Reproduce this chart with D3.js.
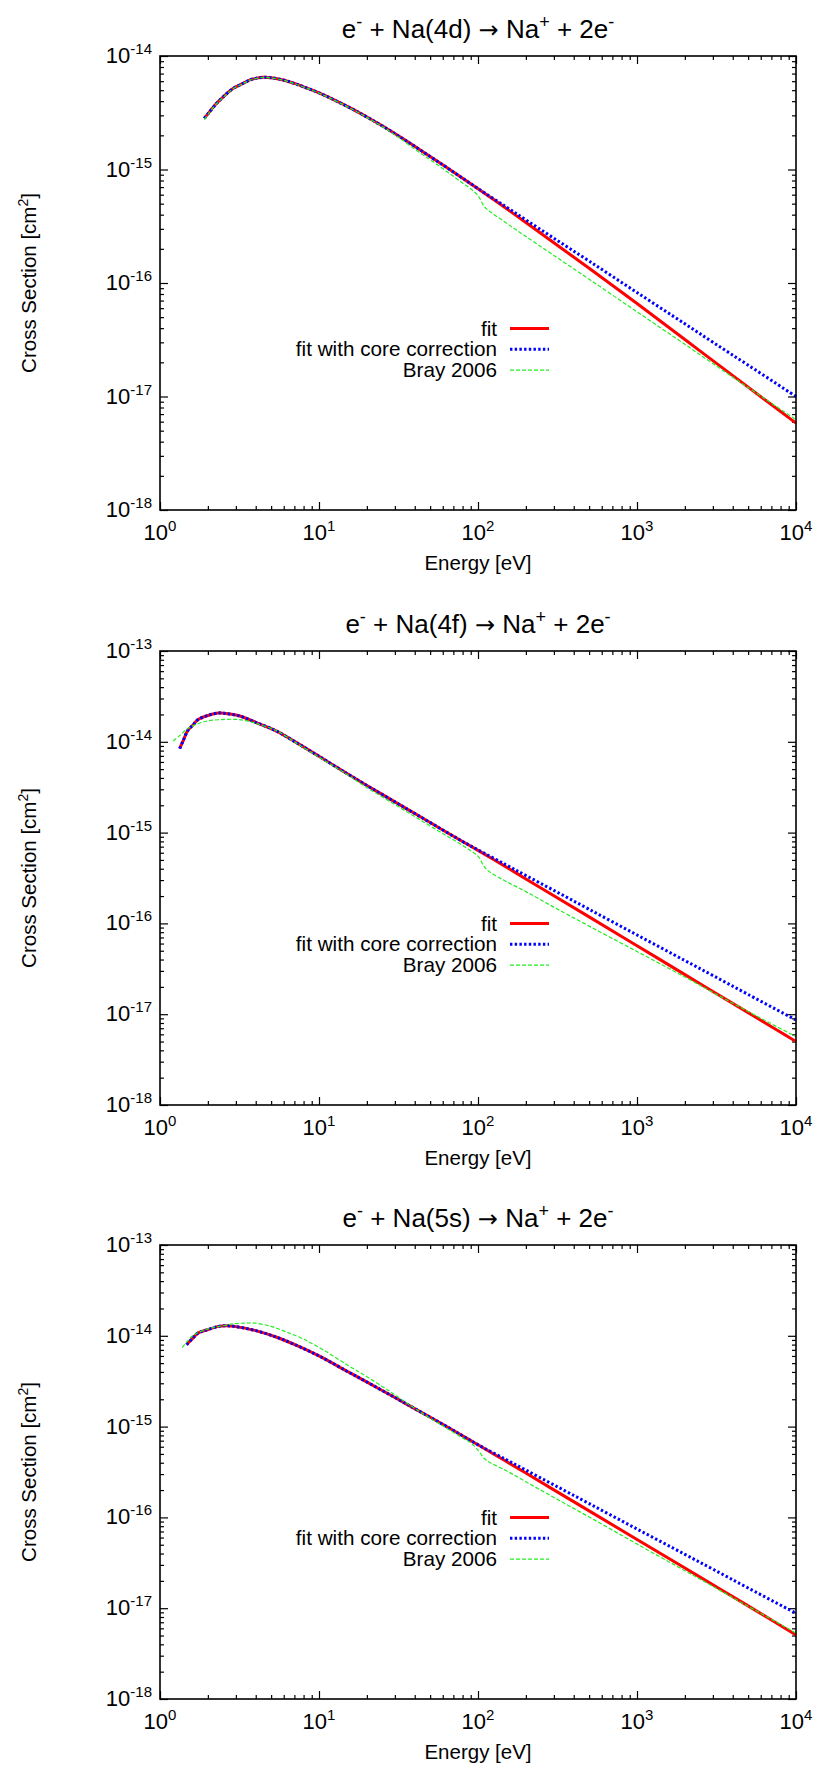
<!DOCTYPE html>
<html>
<head>
<meta charset="utf-8">
<script src="https://cdn.jsdelivr.net/npm/d3@7/dist/d3.min.js"></script>
<style>
  html, body { margin: 0; padding: 0; background: #fff; }
  svg { display: block; font-family: "Liberation Sans", Arial, Helvetica, sans-serif; }
</style>
</head>
<body>
<svg id="chart" width="815" height="1765"></svg>
<script>
// ---- e- + Na(4d) ----
const energy4d = [1.9, 2.0, 2.27, 2.5, 2.89, 3.3, 3.68, 4.0, 4.47, 5, 5.96, 7, 8, 10, 15.7, 20, 25.4, 32.3, 40, 50, 60, 70, 80, 100, 150, 200, 300, 500, 1000, 2000, 3000, 5000, 10000];
const fit4d = [2.82e-15, 3.09e-15, 3.83e-15, 4.37e-15, 5.19e-15, 5.70e-15, 6.15e-15, 6.35e-15, 6.49e-15, 6.43e-15, 6.15e-15, 5.73e-15, 5.35e-15, 4.73e-15, 3.49e-15, 2.90e-15, 2.39e-15, 1.94e-15, 1.60e-15, 1.30e-15, 1.10e-15, 9.51e-16, 8.38e-16, 6.76e-16, 4.55e-16, 3.41e-16, 2.26e-16, 1.35e-16, 6.59e-17, 3.18e-17, 2.07e-17, 1.21e-17, 5.83e-18];
const core4d = [2.82e-15, 3.09e-15, 3.83e-15, 4.37e-15, 5.19e-15, 5.70e-15, 6.15e-15, 6.35e-15, 6.49e-15, 6.43e-15, 6.15e-15, 5.73e-15, 5.35e-15, 4.73e-15, 3.49e-15, 2.90e-15, 2.39e-15, 1.94e-15, 1.60e-15, 1.30e-15, 1.10e-15, 9.51e-16, 8.38e-16, 6.79e-16, 4.69e-16, 3.60e-16, 2.48e-16, 1.56e-16, 8.24e-17, 4.37e-17, 3.01e-17, 1.89e-17, 1.00e-17];
const brayEnergy4d = [1.9, 2.0, 2.27, 2.5, 2.89, 3.3, 3.68, 4.0, 4.47, 5, 5.96, 7, 8, 10, 15.7, 20, 25.4, 32.3, 40, 50, 60, 70, 80, 90, 100, 110, 120, 150, 200, 300, 500, 1000, 2000, 3000, 5000, 10000];
const bray4d = [2.75e-15, 3.05e-15, 3.80e-15, 4.34e-15, 5.16e-15, 5.68e-15, 6.13e-15, 6.33e-15, 6.47e-15, 6.41e-15, 6.13e-15, 5.71e-15, 5.33e-15, 4.71e-15, 3.47e-15, 2.88e-15, 2.36e-15, 1.88e-15, 1.51e-15, 1.22e-15, 1.02e-15, 8.71e-16, 7.59e-16, 6.76e-16, 5.89e-16, 4.68e-16, 4.22e-16, 3.39e-16, 2.57e-16, 1.75e-16, 1.08e-16, 5.58e-17, 2.88e-17, 1.95e-17, 1.20e-17, 6.25e-18];

// ---- e- + Na(4f) ----
const energy4f = [1.33, 1.4, 1.49, 1.6, 1.73, 2.0, 2.34, 2.6, 3.0, 3.41, 4.0, 5.37, 7, 10, 15, 19.4, 30, 41.1, 60, 80, 100, 150, 200, 300, 500, 1000, 2000, 3000, 5000, 10000];
const fit4f = [8.43e-15, 1.03e-14, 1.32e-14, 1.51e-14, 1.75e-14, 1.95e-14, 2.08e-14, 2.05e-14, 1.97e-14, 1.84e-14, 1.64e-14, 1.32e-14, 1.01e-14, 6.92e-15, 4.47e-15, 3.41e-15, 2.18e-15, 1.58e-15, 1.07e-15, 7.98e-16, 6.37e-16, 4.19e-16, 3.09e-16, 2.02e-16, 1.18e-16, 5.68e-17, 2.73e-17, 1.78e-17, 1.04e-17, 5.01e-18];
const core4f = [8.43e-15, 1.03e-14, 1.32e-14, 1.51e-14, 1.75e-14, 1.95e-14, 2.08e-14, 2.05e-14, 1.97e-14, 1.84e-14, 1.64e-14, 1.32e-14, 1.01e-14, 6.92e-15, 4.47e-15, 3.41e-15, 2.18e-15, 1.58e-15, 1.07e-15, 7.98e-16, 6.46e-16, 4.42e-16, 3.37e-16, 2.31e-16, 1.43e-16, 7.46e-17, 3.90e-17, 2.67e-17, 1.65e-17, 8.63e-18];
const brayEnergy4f = [1.21, 1.33, 1.49, 1.73, 2.0, 2.34, 2.94, 3.41, 4.0, 5.37, 7, 10, 15, 19.4, 30, 41.1, 60, 80, 90, 100, 110, 120, 150, 200, 300, 500, 1000, 2000, 3000, 5000, 10000];
const bray4f = [1.02e-14, 1.17e-14, 1.39e-14, 1.58e-14, 1.70e-14, 1.75e-14, 1.77e-14, 1.72e-14, 1.60e-14, 1.33e-14, 1.00e-14, 6.76e-15, 4.37e-15, 3.24e-15, 2.04e-15, 1.46e-15, 9.77e-16, 7.24e-16, 6.31e-16, 5.50e-16, 4.17e-16, 3.63e-16, 2.90e-16, 2.24e-16, 1.51e-16, 9.33e-17, 4.90e-17, 2.57e-17, 1.74e-17, 1.07e-17, 5.66e-18];

// ---- e- + Na(5s) ----
const energy5s = [1.47, 1.6, 1.73, 2.0, 2.34, 2.6, 2.94, 4.0, 5.37, 7, 10, 15, 19.4, 30, 41, 60, 80, 100, 150, 200, 300, 500, 1000, 2000, 3000, 5000, 10000];
const fit5s = [8.00e-15, 9.33e-15, 1.07e-14, 1.17e-14, 1.27e-14, 1.29e-14, 1.27e-14, 1.14e-14, 9.70e-15, 8.04e-15, 6.00e-15, 4.07e-15, 3.19e-15, 2.09e-15, 1.54e-15, 1.06e-15, 7.92e-16, 6.31e-16, 4.15e-16, 3.08e-16, 2.01e-16, 1.18e-16, 5.71e-17, 2.77e-17, 1.81e-17, 1.06e-17, 5.08e-18];
const core5s = [8.00e-15, 9.33e-15, 1.07e-14, 1.17e-14, 1.27e-14, 1.29e-14, 1.27e-14, 1.14e-14, 9.70e-15, 8.04e-15, 6.00e-15, 4.07e-15, 3.19e-15, 2.09e-15, 1.54e-15, 1.06e-15, 7.92e-16, 6.31e-16, 4.34e-16, 3.32e-16, 2.28e-16, 1.42e-16, 7.45e-17, 3.92e-17, 2.69e-17, 1.67e-17, 8.79e-18];
const brayEnergy5s = [1.38, 1.47, 1.6, 2.0, 2.5, 2.94, 3.5, 3.97, 5, 6.25, 8, 10.6, 15, 19.4, 25, 30, 41, 60, 80, 90, 100, 110, 120, 150, 200, 300, 500, 1000, 2000, 3000, 5000, 10000];
const bray5s = [7.41e-15, 8.51e-15, 1.00e-14, 1.19e-14, 1.29e-14, 1.36e-14, 1.38e-14, 1.38e-14, 1.27e-14, 1.10e-14, 9.18e-15, 7.03e-15, 4.79e-15, 3.66e-15, 2.77e-15, 2.24e-15, 1.54e-15, 1.02e-15, 7.48e-16, 6.61e-16, 5.50e-16, 4.42e-16, 3.98e-16, 3.28e-16, 2.47e-16, 1.66e-16, 1.01e-16, 5.09e-17, 2.59e-17, 1.74e-17, 1.05e-17, 5.33e-18];

// axis ticks and labels
const xMajorExp = [0, 1, 2, 3, 4];
const yMajorExp4d = [-18, -17, -16, -15, -14];
const yMajorExp = [-18, -17, -16, -15, -14, -13];
const seriesNames = ["fit", "fit with core correction", "Bray 2006"];
const states = ["4d", "4f", "5s"];
const xTitle = "Energy [eV]";

const panels = [
  { state: states[0], top: 56, yExp: yMajorExp4d,
    series: [[energy4d, fit4d], [energy4d, core4d], [brayEnergy4d, bray4d]] },
  { state: states[1], top: 651, yExp: yMajorExp,
    series: [[energy4f, fit4f], [energy4f, core4f], [brayEnergy4f, bray4f]] },
  { state: states[2], top: 1245, yExp: yMajorExp,
    series: [[energy5s, fit5s], [energy5s, core5s], [brayEnergy5s, bray5s]] }
];

const styles = [
  { color: "#ff0000", width: 3, dash: null },
  { color: "#0000ff", width: 3, dash: "2.4,2.3" },
  { color: "#22ee22", width: 1.2, dash: "4,2" }
];

const svg = d3.select("#chart");
const left = 160, right = 796, plotH = 454;

function minorValues(exps) {
  const out = [];
  for (let i = 0; i < exps.length - 1; i++) {
    for (let m = 2; m <= 9; m++) out.push(m * Math.pow(10, exps[i]));
  }
  return out;
}

function supText(sel, base, sup, supSize, rise) {
  sel.append("tspan").text(base);
  sel.append("tspan").attr("font-size", supSize).attr("dy", -rise).text(sup);
}

panels.forEach(p => {
  const g = svg.append("g");
  const top = p.top, bottom = top + plotH;
  const x = d3.scaleLog().domain([1, 1e4]).range([left, right]);
  const yMin = Math.pow(10, p.yExp[0]), yMax = Math.pow(10, p.yExp[p.yExp.length - 1]);
  const y = d3.scaleLog().domain([yMin, yMax]).range([bottom, top]);

  const xMaj = xMajorExp.map(e => Math.pow(10, e));
  const yMaj = p.yExp.map(e => Math.pow(10, e));
  const xMin = minorValues(xMajorExp);
  const yMinr = minorValues(p.yExp);

  // ticks on all four sides, pointing inward
  const mk = (axis, scale, vals, size, tx, ty) => {
    const a = g.append("g").attr("transform", `translate(${tx},${ty})`)
      .call(axis(scale).tickValues(vals).tickSizeInner(-size).tickSizeOuter(0).tickFormat(""));
    a.select(".domain").remove();
    a.selectAll("line").attr("stroke", "#000").attr("stroke-width", 1.2);
  };
  mk(d3.axisBottom, x, xMaj, 8, 0, bottom);
  mk(d3.axisBottom, x, xMin, 4, 0, bottom);
  mk(d3.axisTop, x, xMaj, 8, 0, top);
  mk(d3.axisTop, x, xMin, 4, 0, top);
  mk(d3.axisLeft, y, yMaj, 8, left, 0);
  mk(d3.axisLeft, y, yMinr, 4, left, 0);
  mk(d3.axisRight, y, yMaj, 8, right, 0);
  mk(d3.axisRight, y, yMinr, 4, right, 0);

  // curves: fit first, then core-corrected fit, then Bray 2006 on top
  const line = d3.line().x(d => x(d[0])).y(d => y(d[1])).curve(d3.curveCatmullRom.alpha(0.5));
  p.series.forEach(([ex, vals], i) => {
    const pts = ex.map((e, k) => [e, vals[k]]);
    const st = styles[i];
    const path = g.append("path").datum(pts).attr("d", line)
      .attr("fill", "none").attr("stroke", st.color).attr("stroke-width", st.width)
      .attr("stroke-linejoin", "round");
    if (st.dash) path.attr("stroke-dasharray", st.dash);
  });

  // frame
  g.append("rect").attr("x", left).attr("y", top).attr("width", right - left).attr("height", plotH)
    .attr("fill", "none").attr("stroke", "#000").attr("stroke-width", 1.6);

  // tick labels
  xMajorExp.forEach(e => {
    const t = g.append("text").attr("x", x(Math.pow(10, e))).attr("y", bottom + 30)
      .attr("text-anchor", "middle").attr("font-size", 22);
    supText(t, "10", String(e), 15, 9);
  });
  p.yExp.forEach(e => {
    const t = g.append("text").attr("x", 152).attr("y", y(Math.pow(10, e)) + 7)
      .attr("text-anchor", "end").attr("font-size", 22);
    supText(t, "10", String(e), 15, 9);
  });

  // title
  const title = g.append("text").attr("x", (left + right) / 2).attr("y", top - 18)
    .attr("text-anchor", "middle").attr("font-size", 26);
  title.append("tspan").text("e");
  title.append("tspan").attr("font-size", 18).attr("dy", -10).text("-");
  title.append("tspan").attr("dy", 10).text(` + Na(${p.state}) `);
  title.append("tspan").attr("font-family", "DejaVu Sans").attr("font-size", 24).text("\u2192");
  title.append("tspan").text(" Na");
  title.append("tspan").attr("font-size", 18).attr("dy", -10).text("+");
  title.append("tspan").attr("dy", 10).text(" + 2e");
  title.append("tspan").attr("font-size", 18).attr("dy", -10).text("-");

  // axis titles
  g.append("text").attr("x", (left + right) / 2).attr("y", bottom + 60)
    .attr("text-anchor", "middle").attr("font-size", 20.5).text(xTitle);
  const yl = g.append("text").attr("transform", `translate(29,${(top + bottom) / 2}) rotate(-90)`)
    .attr("dy", "0.35em").attr("text-anchor", "middle").attr("font-size", 20.5);
  yl.append("tspan").text("Cross Section [cm");
  yl.append("tspan").attr("font-size", 14).attr("dy", -8).text("2");
  yl.append("tspan").attr("dy", 8).text("]");

  // legend
  seriesNames.forEach((name, i) => {
    const cy = top + 272.5 + i * 20.8;
    g.append("text").attr("x", 497).attr("y", cy + 7).attr("text-anchor", "end")
      .attr("font-size", 20.7).text(name);
    const st = styles[i];
    const l = g.append("line").attr("x1", 510).attr("x2", 549).attr("y1", cy).attr("y2", cy)
      .attr("stroke", st.color).attr("stroke-width", st.width);
    if (st.dash) l.attr("stroke-dasharray", st.dash);
  });
});
</script>
</body>
</html>
